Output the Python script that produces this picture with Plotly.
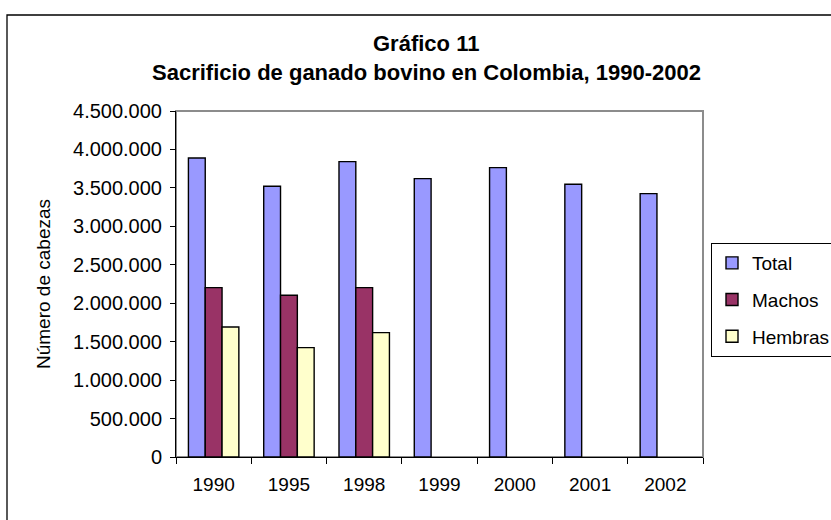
import plotly.graph_objects as go

years = ["1990", "1995", "1998", "1999", "2000", "2001", "2002"]
total = [3889000, 3521000, 3842000, 3621000, 3764000, 3547000, 3426000]
machos = [2203000, 2103000, 2203000, None, None, None, None]
hembras = [1691000, 1423000, 1618000, None, None, None, None]
y_ticks = [0, 500000, 1000000, 1500000, 2000000, 2500000, 3000000, 3500000, 4000000, 4500000]

FONT = "Arial, 'Liberation Sans', sans-serif"
# figure is a little wider than the 831 px window so that the chart frame
# and legend run off the right edge, as in the reference
W, H = 860, 520
ML, MR, MT, MB = 176, 157, 111, 63
PW, PH = W - ML - MR, H - MT - MB


def px(xp):
    return (xp - ML) / PW


def py(yp):
    return (H - MB - yp) / PH


fig = go.Figure()
for name, vals, col in [("Total", total, "#9999FF"),
                        ("Machos", machos, "#993366"),
                        ("Hembras", hembras, "#FFFFCC")]:
    fig.add_trace(go.Bar(x=years, y=vals, name=name, legendgroup=name,
                         marker=dict(color=col, line=dict(color="black", width=1.4))))

fig.update_layout(
    width=W, height=H,
    margin=dict(l=ML, r=MR, t=MT, b=MB),
    paper_bgcolor="white", plot_bgcolor="white",
    barmode="group", bargap=0.33, bargroupgap=0,
    separators=",.",
    font=dict(family=FONT, size=19, color="black"),
    showlegend=True,
    legend=dict(x=px(711), y=py(243), xanchor="left", yanchor="top",
                bordercolor="black", borderwidth=1, bgcolor="white",
                font=dict(size=19), tracegroupgap=9, traceorder="grouped"),
    xaxis=dict(type="category", showline=True, linecolor="black", linewidth=1,
               ticks="outside", tickson="boundaries", ticklen=6, tickcolor="black",
               showgrid=False, ticklabelstandoff=10, tickfont=dict(size=19)),
    yaxis=dict(range=[0, 4500000], tickvals=y_ticks, tickformat=",d",
               showline=True, linecolor="black", linewidth=1,
               ticks="outside", ticklen=5, tickcolor="black", showgrid=False,
               zeroline=False, ticklabelstandoff=4, tickfont=dict(size=20),
               title=dict(text="Número de cabezas", font=dict(size=19), standoff=17)),
    annotations=[
        dict(text="<b>Gráfico 11</b>", x=px(426), y=py(43), xref="paper", yref="paper",
             xanchor="center", yanchor="middle", showarrow=False, font=dict(size=22)),
        dict(text="<b>Sacrificio de ganado bovino en Colombia, 1990-2002</b>", x=px(426), y=py(72),
             xref="paper", yref="paper", xanchor="center", yanchor="middle",
             showarrow=False, font=dict(size=22)),
    ],
    shapes=[
        dict(type="rect", xref="paper", yref="paper", x0=0, x1=1, y0=0, y1=1,
             line=dict(color="#8c8c8c", width=2), layer="below"),
        dict(type="rect", xref="paper", yref="paper", x0=px(7), x1=px(850), y0=py(530), y1=py(15),
             line=dict(color="black", width=1.3), layer="below"),
    ],
)

fig.write_html(
    "out.html",
    config={"displayModeBar": False},
    post_script="document.body.style.margin='0';document.body.style.overflow='hidden';",
)
